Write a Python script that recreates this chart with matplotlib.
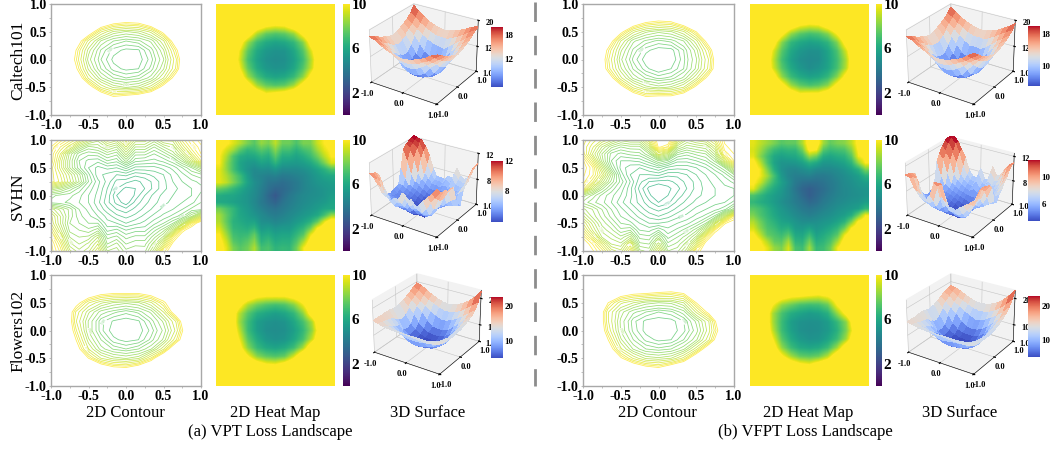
import numpy as np
import matplotlib
matplotlib.use("Agg")
import matplotlib.pyplot as plt
from matplotlib.cm import ScalarMappable
from matplotlib.colors import Normalize
from matplotlib.lines import Line2D

plt.rcParams['font.family'] = ['Liberation Serif', 'DejaVu Serif']

W, H = 1050, 451

caltech_vpt = [
    [18.5, 17.7, 16.5, 15.7, 15, 14.5, 14.2, 14.5, 15, 15.7, 16.5, 17.5, 18],
    [17.7, 16.5, 15.1, 14.2, 13.2, 12.6, 12.4, 12.6, 13.2, 14.2, 15.1, 16.5, 17.5],
    [16.5, 15.1, 13.8, 12.6, 11.4, 10.4, 10, 10.2, 11.3, 12.4, 13.8, 15.1, 16.5],
    [15.7, 14.2, 12.6, 11, 8.75, 7.6, 7.25, 7.5, 8.35, 10.4, 12.2, 14.2, 15.7],
    [15.1, 13.2, 11.1, 8.5, 6.85, 6.1, 5.8, 6, 6.6, 8.1, 11.1, 13.2, 15.1],
    [14.5, 12.4, 10, 7.5, 6.05, 5.35, 5.1, 5.15, 5.9, 7.25, 9.7, 12.6, 14.5],
    [14.2, 12.1, 9.7, 7.1, 5.8, 5.1, 4.9, 5, 5.65, 6.85, 9.1, 12.2, 14.2],
    [14.5, 12.4, 10.2, 7.6, 6.1, 5.35, 5.1, 5.2, 5.9, 7.25, 9.3, 12.6, 14.5],
    [15.1, 13.3, 11.4, 8.6, 7, 6.1, 5.8, 6, 6.7, 8.2, 10.8, 13.2, 15.1],
    [15.7, 14.3, 12.7, 10.8, 8.6, 7.6, 7.25, 7.5, 8.5, 10.6, 12.6, 14.2, 15.7],
    [16.5, 15.1, 13.9, 12.6, 11.3, 10, 10.4, 10.8, 11.6, 12.6, 13.9, 15.1, 16.5],
    [17.5, 16.5, 15.2, 14.2, 13.2, 12.6, 12.6, 12.7, 13.3, 14.2, 15.2, 16.5, 17.7],
    [18, 17.5, 16.5, 15.7, 15, 14.5, 14.2, 14.5, 15, 15.7, 16.7, 18, 19.5],
]
caltech_vfpt = [
    [19, 17.8, 16.5, 15.7, 15, 14.5, 14.1, 14.4, 14.9, 15.7, 16.5, 17.5, 18],
    [17.8, 16.5, 15.2, 14.2, 13.2, 12.4, 12, 12.2, 13, 14.2, 15.1, 16.5, 17.5],
    [16.5, 15.2, 13.9, 12.4, 11.1, 10, 9.6, 9.8, 11, 12.2, 13.8, 15.1, 16.5],
    [15.7, 14.2, 12.4, 10.4, 8.35, 7.4, 7, 7.25, 8.1, 10, 12.1, 14.2, 15.7],
    [15, 13.2, 11, 8.2, 6.6, 6, 5.7, 5.9, 6.5, 8, 10.8, 13.2, 15.1],
    [14.6, 12.4, 9.7, 7.4, 6, 5.3, 5, 5.05, 5.8, 7.1, 9.3, 12.4, 14.5],
    [14.3, 12.1, 9.3, 7, 5.7, 5, 4.8, 4.9, 5.7, 6.85, 8.75, 12, 14.2],
    [14.6, 12.2, 9.5, 7.4, 6.05, 5.3, 4.9, 5.2, 5.8, 7, 8.9, 12.2, 14.5],
    [15.1, 13.2, 11, 8.35, 6.8, 6.05, 5.7, 5.9, 6.6, 8.1, 10.6, 13.2, 15.1],
    [15.7, 14.2, 12.6, 10.6, 8.5, 7.5, 7.1, 7.4, 8.2, 10.4, 12.4, 14.2, 15.7],
    [16.5, 15.2, 13.9, 12.4, 11.1, 10, 10.2, 10.2, 11.1, 12.4, 13.9, 15.2, 16.5],
    [17.5, 16.5, 15.3, 14.2, 13.2, 12.4, 12.6, 12.6, 13.2, 14.2, 15.2, 16.5, 17.5],
    [19, 17.7, 16.7, 15.7, 15, 14.5, 14.3, 14.5, 15, 15.7, 16.5, 17.7, 19],
]
flowers_vpt = [
    [14.5, 13.8, 13.4, 13.4, 13.6, 13.8, 14, 14, 14, 14.2, 14.4, 15, 15.5],
    [14, 13.4, 13, 12.6, 12.6, 12.6, 12.6, 12.6, 12.8, 13, 13.6, 14.6, 15.5],
    [13.8, 13, 12, 11.2, 10.3, 10, 10, 10, 10.6, 11.4, 12.6, 14.2, 15.5],
    [13.6, 12.6, 10.6, 8.75, 7.8, 7.25, 7, 7.25, 8.1, 9.7, 11.6, 13.8, 15.6],
    [13.6, 12, 9.1, 7.4, 6.3, 5.9, 5.6, 5.9, 6.6, 8.2, 11, 13.2, 15.6],
    [13.8, 12.2, 8.75, 6.85, 5.6, 5.15, 5, 5.15, 5.9, 7, 8.75, 12.2, 15.4],
    [14, 12.2, 9.3, 6.85, 5.6, 5, 4.9, 5, 5.6, 6.6, 8.35, 11.4, 15.2],
    [14.5, 12.4, 10, 7.4, 6.1, 5.3, 5.05, 5.2, 5.9, 7, 9.1, 12, 15.4],
    [15.2, 13.2, 10.8, 8.2, 6.7, 6.05, 5.8, 6.1, 6.85, 8.6, 11.8, 13.8, 16],
    [15.8, 14, 12, 10, 8.2, 7.5, 7.25, 7.6, 9.3, 11.8, 13.6, 15.5, 16.8],
    [17, 15.4, 13.8, 12.2, 11.1, 10.2, 10, 10.8, 12, 13.6, 14.8, 16.5, 17.5],
    [19, 17.3, 15.8, 14.2, 13.2, 12.6, 12.6, 13.2, 14.2, 15, 16.2, 17.6, 18.8],
    [22.5, 20, 18, 16.5, 15.5, 14.8, 14.5, 14.8, 15.5, 16.5, 17.5, 18.8, 19.5],
]
flowers_vfpt = [
    [14, 13.4, 13.2, 13.2, 13.4, 13.6, 13.8, 13.8, 13.8, 14, 14.2, 14.6, 15],
    [13.6, 13.2, 12.8, 12.4, 12.4, 12.4, 12.4, 12.2, 12.6, 12.8, 13.4, 14.2, 15],
    [13.4, 12.8, 11.6, 10.8, 10.2, 10, 9.7, 9.5, 10, 11, 12.4, 13.6, 15],
    [13.4, 12.4, 10, 8.35, 7.7, 7.1, 6.9, 7, 7.7, 10, 11.8, 13.4, 15.2],
    [13.4, 12, 8.75, 7.1, 6.2, 5.8, 5.5, 5.7, 6.3, 8.3, 10.4, 12.8, 15.4],
    [13.6, 12, 8.75, 6.8, 5.6, 5.1, 5, 5.05, 5.5, 6.6, 8.2, 11.6, 15],
    [14, 12.2, 9.1, 6.85, 5.7, 5.05, 4.9, 5, 5.4, 6.3, 8, 10.8, 14.6],
    [14.6, 12.6, 10, 7.4, 6.1, 5.4, 5.1, 5.2, 5.8, 6.8, 8.6, 11.8, 15],
    [15.4, 13.4, 11, 8.35, 6.85, 6.1, 5.9, 6.1, 6.8, 8.5, 11.3, 13.6, 15.6],
    [16.5, 14.2, 12.2, 10.2, 8.6, 7.6, 7.4, 7.7, 8.9, 11.4, 13, 14.9, 16.5],
    [18, 15.8, 14, 12.6, 11.3, 10.4, 10, 11, 12, 13.4, 14.6, 16.2, 17.5],
    [20, 17.7, 15.9, 14.4, 13.4, 12.8, 12.7, 13, 13.9, 14.8, 15.8, 17.2, 18.2],
    [23, 20.5, 18.4, 16.7, 15.7, 15, 14.7, 14.8, 15.3, 16.2, 17.2, 18, 18.5],
]
svhn_vpt = [
    [11.0, 10.2, 9.5, 8.8, 8.0, 7.4, 8.4, 8.0, 9.0, 7.8, 7.8, 7.2, 8.0, 8.0, 9.2, 10.0, 10.5],
    [10.3, 9.4, 8.6, 7.4, 6.6, 6.8, 7.4, 7.0, 8.2, 7.0, 7.0, 6.4, 7.0, 7.4, 8.6, 9.6, 10.2],
    [10.0, 8.8, 7.2, 6.2, 5.9, 6.0, 6.5, 6.2, 7.4, 6.2, 6.2, 5.8, 6.2, 6.8, 7.8, 9.0, 10.0],
    [10.0, 8.4, 7.0, 5.8, 5.4, 5.3, 5.8, 5.6, 6.5, 5.6, 5.5, 5.4, 5.6, 6.0, 6.8, 8.0, 9.4],
    [9.6, 8.4, 7.0, 5.9, 5.2, 4.8, 5.0, 4.9, 5.3, 4.8, 4.8, 4.8, 5.0, 5.3, 5.8, 6.4, 7.2],
    [9.6, 8.8, 7.8, 6.8, 5.6, 4.7, 4.5, 4.3, 4.4, 4.1, 4.2, 4.4, 4.6, 5.0, 5.4, 5.8, 6.0],
    [9.6, 9.0, 8.0, 7.0, 5.8, 5.0, 4.5, 3.9, 3.8, 3.6, 3.8, 4.1, 4.5, 4.9, 5.2, 5.4, 5.6],
    [7.6, 7.2, 6.6, 6.0, 5.4, 4.9, 4.3, 3.7, 3.3, 3.4, 3.7, 4.1, 4.5, 4.8, 5.0, 5.2, 5.4],
    [6.2, 6.0, 5.9, 5.6, 5.2, 4.8, 4.2, 3.4, 2.8, 3.5, 4.0, 4.4, 4.7, 4.9, 5.0, 5.2, 5.6],
    [6.0, 5.9, 5.7, 5.5, 5.2, 4.7, 4.1, 3.6, 3.2, 3.8, 4.2, 4.5, 4.8, 5.0, 5.2, 5.4, 5.8],
    [7.8, 7.2, 6.6, 5.8, 5.4, 4.9, 4.4, 4.0, 3.8, 4.1, 4.4, 4.7, 5.0, 5.2, 5.5, 5.9, 6.0],
    [8.6, 7.6, 6.6, 5.9, 5.6, 5.2, 4.8, 4.4, 4.2, 4.4, 4.7, 5.0, 5.3, 5.6, 6.0, 7.0, 8.4],
    [8.8, 7.6, 6.4, 6.1, 5.8, 5.8, 5.0, 4.9, 4.6, 4.8, 5.0, 5.4, 5.8, 6.4, 7.6, 9.6, 11.0],
    [9.4, 8.0, 6.6, 6.4, 6.2, 6.6, 5.4, 5.6, 5.2, 5.4, 5.4, 6.0, 6.6, 7.8, 10.0, 11.0, 11.5],
    [10.0, 8.6, 7.0, 6.7, 6.8, 7.6, 6.0, 6.2, 5.7, 5.9, 5.9, 6.6, 7.4, 9.6, 11.0, 11.5, 11.8],
    [10.4, 9.2, 7.4, 7.0, 7.4, 8.2, 6.4, 6.8, 6.1, 6.3, 6.3, 7.2, 8.6, 10.5, 11.5, 11.8, 12.0],
    [10.5, 9.6, 8.0, 7.4, 7.8, 8.8, 7.0, 7.2, 6.5, 6.7, 6.6, 7.8, 9.8, 11.0, 11.8, 12.0, 12.2],
]
svhn_vfpt = [
    [9.6, 9.0, 8.5, 8.0, 7.4, 7.6, 7.6, 8.8, 10.8, 10.8, 8.6, 7.6, 8.0, 8.2, 9.0, 10.4, 10.6],
    [9.4, 8.6, 7.6, 6.8, 6.4, 6.6, 6.6, 7.8, 10.4, 10.0, 7.4, 6.8, 7.0, 7.2, 8.2, 10.2, 10.5],
    [9.6, 8.2, 7.0, 6.0, 5.7, 5.9, 6.0, 6.7, 8.4, 7.8, 6.2, 5.9, 6.2, 6.4, 7.4, 9.8, 10.3],
    [10.4, 9.0, 7.2, 5.8, 5.2, 5.2, 5.3, 5.7, 6.4, 6.0, 5.3, 5.3, 5.5, 5.8, 6.5, 8.4, 10.0],
    [10.6, 9.8, 8.0, 6.2, 5.1, 4.7, 4.6, 4.9, 5.2, 4.8, 4.7, 4.7, 4.9, 5.2, 5.7, 6.4, 8.0],
    [10.4, 9.8, 8.6, 7.0, 5.4, 4.6, 4.3, 4.3, 4.4, 4.1, 4.1, 4.3, 4.6, 4.9, 5.2, 5.6, 6.4],
    [10.2, 9.2, 7.8, 6.6, 5.7, 4.9, 4.1, 3.7, 3.6, 3.6, 3.8, 4.1, 4.4, 4.8, 5.0, 5.3, 5.6],
    [9.6, 8.0, 6.8, 6.0, 5.4, 4.7, 3.9, 3.3, 3.0, 3.3, 3.6, 4.0, 4.4, 4.7, 4.9, 5.1, 5.2],
    [7.2, 6.6, 6.0, 5.6, 5.2, 4.7, 4.1, 3.5, 3.0, 3.4, 3.8, 4.2, 4.5, 4.7, 4.9, 5.0, 5.2],
    [6.6, 6.2, 5.9, 5.5, 5.0, 4.6, 4.2, 3.8, 3.4, 3.6, 4.1, 4.4, 4.7, 4.9, 5.1, 5.2, 5.6],
    [7.4, 7.0, 6.4, 5.8, 5.3, 4.9, 4.5, 4.1, 3.9, 4.1, 4.4, 4.7, 5.0, 5.2, 5.4, 5.7, 6.6],
    [8.0, 7.2, 6.6, 6.0, 5.5, 5.2, 4.8, 4.5, 4.3, 4.5, 4.8, 5.0, 5.3, 5.6, 6.2, 7.8, 9.8],
    [8.8, 7.8, 6.9, 6.4, 5.8, 5.6, 5.2, 4.9, 4.9, 5.0, 5.2, 5.4, 5.8, 6.4, 8.0, 10.2, 10.8],
    [9.4, 8.2, 7.2, 6.8, 6.2, 6.4, 5.5, 5.4, 5.8, 5.3, 5.6, 6.0, 6.6, 7.8, 10.0, 11.0, 11.6],
    [10.2, 9.0, 7.6, 7.2, 6.8, 7.4, 6.0, 5.9, 6.8, 5.7, 6.1, 6.6, 7.4, 9.6, 11.0, 12.0, 12.2],
    [10.8, 10.0, 8.8, 7.6, 7.4, 8.6, 6.5, 6.4, 7.8, 6.2, 6.5, 7.2, 8.6, 10.6, 12.0, 12.6, 12.6],
    [11.0, 10.4, 9.6, 8.4, 8.0, 9.4, 7.1, 6.9, 8.6, 6.7, 6.9, 7.8, 9.8, 11.0, 12.2, 12.8, 12.5],
]

row_names = ["Caltech101", "SVHN", "Flowers102"]
col_names = ["2D Contour", "2D Heat Map", "3D Surface"]
captions = ["(a) VPT Loss Landscape", "(b) VFPT Loss Landscape"]
ticks_2d = [-1.0, -0.5, 0.0, 0.5, 1.0]
ticks_3d = [-1.0, 0.0, 1.0]
cbar_ticks_2d = [2, 6, 10]

# z limits and tick labels of the surfaces, column then row
surf_zlim = [[(4, 20), (4, 12), (3.5, 23)], [(4, 20), (4, 12.5), (3.5, 23)]]
surf_zticks = [[[12, 20], [8, 12], [10, 20]], [[12, 20], [8, 12], [10, 20]]]
surf_range = [[(5, 20), (4, 12), (5, 22.5)], [(5, 20), (3.5, 12.5), (5, 23)]]
surf_cticks = [[[12, 18], [8, 12], [10, 20]], [[10, 18], [6, 10], [10, 20]]]

grids = [[caltech_vpt, svhn_vpt, flowers_vpt], [caltech_vfpt, svhn_vfpt, flowers_vfpt]]
contour_levels = [[5.2, 5.5, 5.8, 6.1, 6.5, 6.9, 7.3, 7.7, 8.2, 8.7, 9.2, 9.6, 10],
                  np.arange(3.4, 10.3, 0.3),
                  [5.2, 5.5, 5.8, 6.1, 6.5, 6.9, 7.3, 7.7, 8.2, 8.7, 9.2, 9.6, 10]]

# pixel boxes: x0, x1 per panel, y0, y1 per row
contour_x = [(51, 201), (583, 734)]
heat_x = [(216, 335), (750, 869)]
cbar_x = [(343, 350), (876, 882)]
surf_box = [[(363, -8, 483, 114), (363, 125, 483, 247), (366, 262, 486, 384)],
            [(900, -8, 1020, 114), (899, 125, 1019, 247), (900, 262, 1020, 384)]]
surf_cbar_x = [(491, 503), (1028, 1040)]
surf_cbar_y = [[(27, 87), (161, 222), (297, 358)], [(26, 86), (160, 221), (296, 357)]]
row_y = [(4, 115), (140, 251), (275, 386)]
row_label_y = [60, 196, 331]
spine_col = '#a8a8a8'


def px_axes(x0, y0, x1, y1, **kw):
    return fig.add_axes([x0 / W, 1 - y1 / H, (x1 - x0) / W, (y1 - y0) / H], **kw)


def draw_contour(ax, z, levels):
    n = z.shape[0]
    xs = np.linspace(-1, 1, n)
    X, Y = np.meshgrid(xs, xs)
    cs = ax.contour(X, Y, z, levels=levels, cmap='viridis', vmin=-8, vmax=10, linewidths=0.55, alpha=0.8)
    ax.clabel(cs, cs.levels[1::4], fontsize=2.2, fmt='%.3f', inline_spacing=0)
    ax.set_xlim(-1, 1)
    ax.set_ylim(-1, 1)
    ax.set_xticks(ticks_2d)
    ax.set_yticks(ticks_2d)
    ax.set_xticks(np.arange(-0.75, 1, 0.5), minor=True)
    ax.set_yticks(np.arange(-0.75, 1, 0.5), minor=True)
    ax.set_xticklabels([f"{t:.1f}" for t in ticks_2d], fontsize=10, fontweight='bold')
    ax.set_yticklabels([f"{t:.1f}" for t in ticks_2d], fontsize=10, fontweight='bold')
    ax.tick_params(which='both', length=1.5, width=0.5, color=spine_col, pad=1.5)
    for s in ax.spines.values():
        s.set_color(spine_col)
        s.set_linewidth(1.0)


def draw_heat(ax, cax, z):
    im = ax.imshow(z, extent=(-1, 1, -1, 1), origin='lower', cmap='viridis', vmin=0, vmax=10,
                   interpolation='bilinear', aspect='auto')
    ax.axis('off')
    cb = fig.colorbar(im, cax=cax)
    cb.set_ticks(cbar_ticks_2d)
    cb.set_ticklabels([str(t) for t in cbar_ticks_2d], fontsize=11, fontweight='bold')
    cb.ax.tick_params(length=0, pad=1)
    cb.outline.set_visible(False)


def draw_surface(ax, z, zlim, zticks, crange):
    n = z.shape[0]
    xs = np.linspace(-1, 1, n)
    X, Y = np.meshgrid(xs, xs)
    # the surfaces in the source are turned half way against the heat maps
    ax.plot_surface(X, Y, np.rot90(z, 2), cmap='coolwarm', vmin=crange[0], vmax=crange[1],
                    rstride=1, cstride=1, linewidth=0, antialiased=False)
    ax.view_init(elev=27, azim=-57)
    ax.set_xlim(-1, 1)
    ax.set_ylim(-1, 1)
    ax.set_zlim(*zlim)
    ax.set_xticks(ticks_3d)
    ax.set_yticks(ticks_3d)
    ax.set_zticks([zlim[0]] + zticks)
    ax.set_xticklabels([f"{t:.1f}" for t in ticks_3d], fontsize=6, fontweight='bold')
    ax.set_yticklabels([f"{t:.1f}" for t in ticks_3d], fontsize=6, fontweight='bold')
    ax.set_zticklabels(["1.0"] + [str(t) for t in zticks], fontsize=6, fontweight='bold')
    ax.tick_params(axis='x', pad=-4)
    ax.tick_params(axis='y', pad=-4)
    ax.tick_params(axis='z', pad=-3)
    for axis in (ax.xaxis, ax.yaxis, ax.zaxis):
        axis.set_pane_color((0.95, 0.95, 0.95, 1.0))
        axis._axinfo['grid']['linewidth'] = 0.4
        axis._axinfo['grid']['color'] = '#c4c4c4'
        axis.line.set_linewidth(0.4)
    ax.patch.set_alpha(0)


fig = plt.figure(figsize=(W / 100, H / 100), dpi=100)

for c in range(2):
    for r in range(3):
        z = np.flipud(np.array(grids[c][r], dtype=float))
        y0, y1 = row_y[r]

        ax = px_axes(contour_x[c][0], y0, contour_x[c][1], y1)
        draw_contour(ax, z, contour_levels[r])

        ax = px_axes(heat_x[c][0], y0, heat_x[c][1], y1)
        cax = px_axes(cbar_x[c][0], y0, cbar_x[c][1], y1)
        draw_heat(ax, cax, z)

        b = surf_box[c][r]
        ax = px_axes(b[0], b[1], b[2], b[3], projection='3d')
        draw_surface(ax, z, surf_zlim[c][r], surf_zticks[c][r], surf_range[c][r])

        cax = px_axes(surf_cbar_x[c][0], surf_cbar_y[c][r][0], surf_cbar_x[c][1], surf_cbar_y[c][r][1])
        sm = ScalarMappable(Normalize(*surf_range[c][r]), cmap='coolwarm')
        cb = fig.colorbar(sm, cax=cax)
        cb.set_ticks(surf_cticks[c][r])
        cb.set_ticklabels([str(t) for t in surf_cticks[c][r]], fontsize=6.5, fontweight='bold')
        cb.ax.tick_params(length=0, pad=1)
        cb.outline.set_visible(False)

for name, y in zip(row_names, row_label_y):
    fig.text(18 / W, 1 - y / H, name, rotation=90, ha='center', va='center', fontsize=12.5)

col_label_x = [[125, 275, 428], [657, 808, 960]]
cap_x = [270, 805]
for c in range(2):
    for name, x in zip(col_names, col_label_x[c]):
        fig.text(x / W, 1 - 413 / H, name, ha='center', va='center', fontsize=12)
    fig.text(cap_x[c] / W, 1 - 432 / H, captions[c], ha='center', va='center', fontsize=12)

fig.add_artist(Line2D([535 / W, 535 / W], [1 - 2 / H, 1 - 386 / H], color='#8c8c8c', lw=2,
                      dashes=(7, 5), transform=fig.transFigure))

fig.savefig("out.png", dpi=100)
